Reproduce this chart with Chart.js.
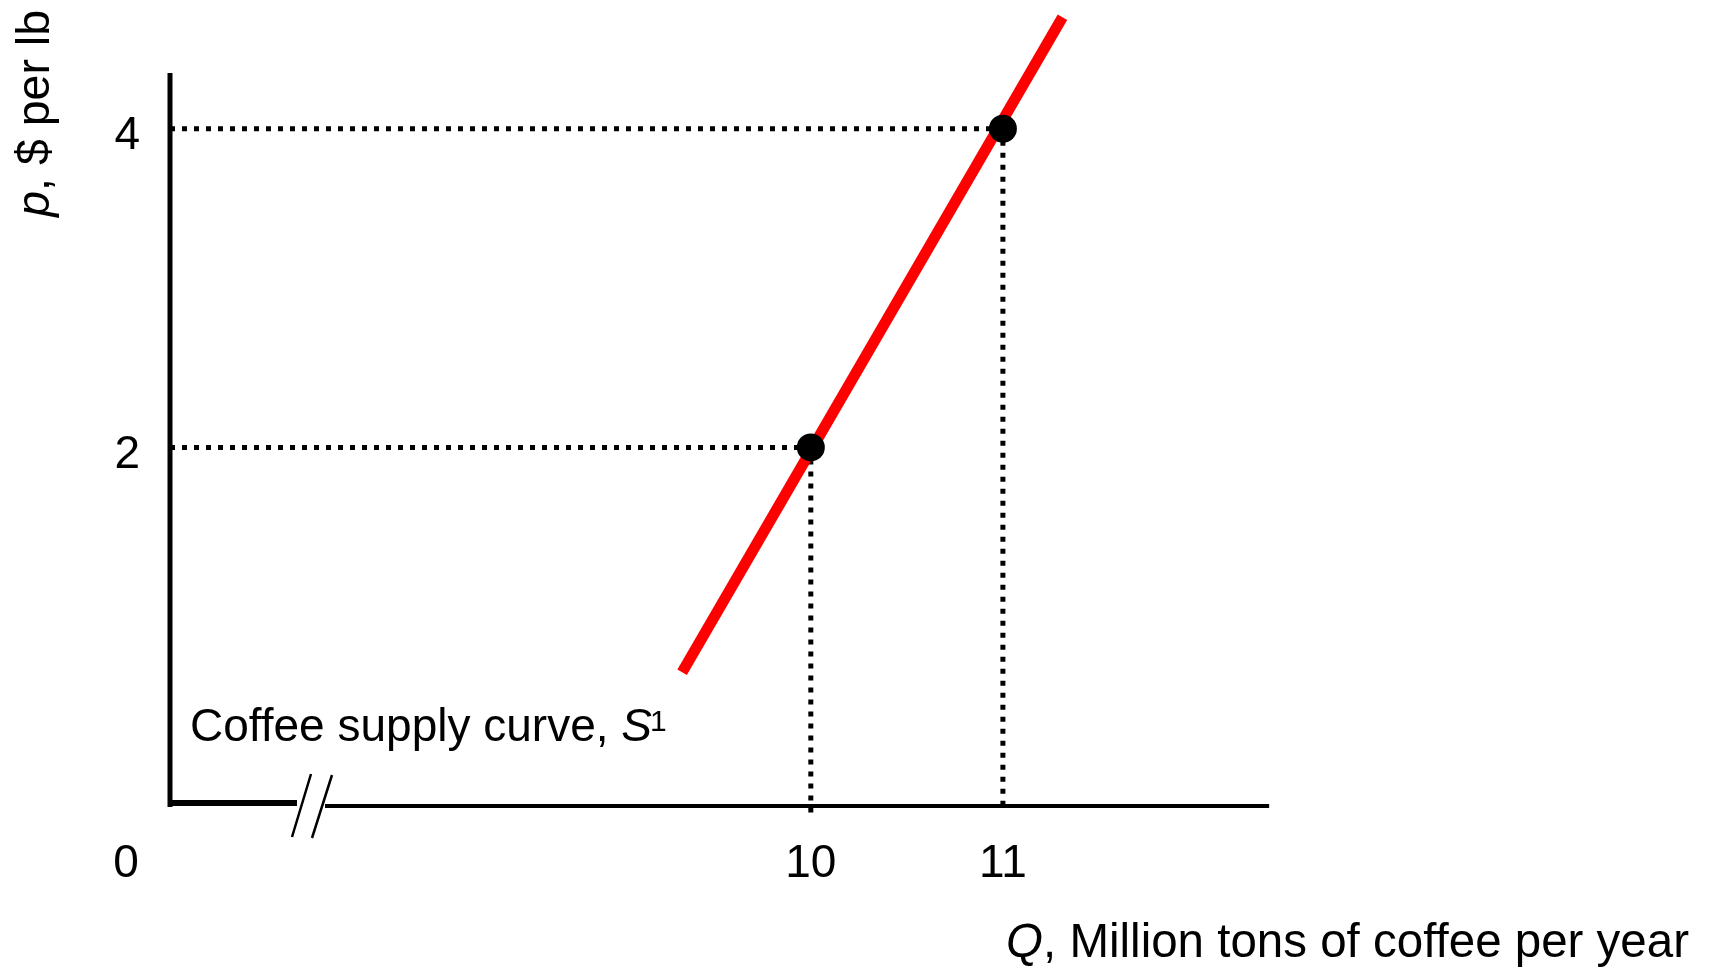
<!DOCTYPE html>
<html lang="en">
  <head>
    <meta charset="UTF-8" />
    <script src="https://cdn.jsdelivr.net/npm/chart.js@4.4.1/dist/chart.umd.min.js"></script>
    <title>Coffee supply curve</title>
    <style>
      html, body { margin: 0; padding: 0; background: #fff; }
      #wrap { width: 1712px; height: 970px; }
    </style>
  </head>
  <body>
    <div id="wrap"><canvas id="myChart"></canvas></div>

    <script>
      // values
      const pointQ = [10, 11];
      const pointP = [2, 4];
      const supplyQ = [9.33, 11.31];
      const supplyP = [0.59, 4.70];
      const xTicks = [10, 11];
      const yTicks = [2, 4];

      const xMin = 6.664, xMax = 14.603;
      const yMin = -0.25, yMax = 4.72;
      const yAxisTop = 4.35;
      const xAxisEnd = 12.386;

      const FONT = "'Liberation Sans', Arial, sans-serif";
      Chart.defaults.font.family = FONT;
      Chart.defaults.color = "#000";

      const guideStyle = {
        showLine: true,
        borderColor: "#000",
        borderWidth: 5,
        borderDash: [5, 7],
        borderCapStyle: "butt",
        pointRadius: 0,
        clip: false,
        order: 3
      };

      // dotted guides from each point to the axes
      const guides = [];
      pointQ.forEach((q, i) => {
        guides.push(Object.assign({ data: [{ x: xMin, y: pointP[i] }, { x: q, y: pointP[i] }] }, guideStyle));
        guides.push(Object.assign({ data: [{ x: q, y: pointP[i] }, { x: q, y: i === 0 ? yMin - 0.06 : yMin }] }, guideStyle));
      });

      // keep the plot area exactly where the layout padding puts it
      function noPad(scale) {
        scale.paddingTop = 0;
        scale.paddingBottom = 0;
        scale.paddingLeft = 0;
        scale.paddingRight = 0;
      }

      const decorations = {
        id: "decorations",
        beforeDatasetsDraw(chart) {
          const { ctx, chartArea } = chart;
          const xs = chart.scales.x, ys = chart.scales.y;
          const left = chartArea.left, bottom = chartArea.bottom;
          ctx.save();
          ctx.strokeStyle = "#000";
          ctx.lineCap = "butt";
          // y axis
          ctx.lineWidth = 5;
          ctx.beginPath();
          ctx.moveTo(left, ys.getPixelForValue(yAxisTop));
          ctx.lineTo(left, bottom + 1);
          ctx.stroke();
          // x axis, left thick part before the break
          ctx.lineWidth = 6;
          ctx.beginPath();
          ctx.moveTo(left - 2, bottom - 3);
          ctx.lineTo(297, bottom - 3);
          ctx.stroke();
          // x axis after the break
          ctx.lineWidth = 4;
          ctx.beginPath();
          ctx.moveTo(325, bottom);
          ctx.lineTo(xs.getPixelForValue(xAxisEnd), bottom);
          ctx.stroke();
          // break marks
          ctx.lineWidth = 2.5;
          ctx.beginPath();
          ctx.moveTo(292, bottom + 31);
          ctx.lineTo(311, bottom - 32);
          ctx.moveTo(312, bottom + 32);
          ctx.lineTo(332, bottom - 31);
          ctx.stroke();
          ctx.restore();
        },
        afterDraw(chart) {
          const { ctx } = chart;
          ctx.save();
          ctx.fillStyle = "#000";
          ctx.textBaseline = "alphabetic";

          // origin label
          ctx.font = "46px " + FONT;
          ctx.textAlign = "center";
          ctx.fillText("0", 126, 877);

          // curve label
          ctx.textAlign = "left";
          let x = 190;
          ctx.font = "46px " + FONT;
          const lab = "Coffee supply curve, ";
          ctx.fillText(lab, x, 741);
          x += ctx.measureText(lab).width;
          ctx.font = "italic 46px " + FONT;
          ctx.fillText("S", x, 741);
          x += ctx.measureText("S").width;
          ctx.font = "30px " + FONT;
          ctx.fillText("1", x - 2, 731);

          // x title, right aligned
          ctx.font = "47.5px " + FONT;
          const rest = ", Million tons of coffee per year";
          const wRest = ctx.measureText(rest).width;
          ctx.font = "italic 47.5px " + FONT;
          const wQ = ctx.measureText("Q").width;
          let tx = 1689 - wRest - wQ;
          ctx.fillText("Q", tx, 957);
          ctx.font = "47.5px " + FONT;
          ctx.fillText(rest, tx + wQ, 957);

          // y title, rotated, ending at the top
          ctx.translate(49, 10);
          ctx.rotate(-Math.PI / 2);
          ctx.font = "46.5px " + FONT;
          const yRest = ", $ per lb";
          const wy = ctx.measureText(yRest).width;
          ctx.font = "italic 46.5px " + FONT;
          const wp = ctx.measureText("p").width;
          ctx.fillText("p", -wy - wp, 0);
          ctx.font = "46.5px " + FONT;
          ctx.fillText(yRest, -wy, 0);
          ctx.restore();
        }
      };

      const ctx = document.getElementById("myChart").getContext("2d");
      const chart = new Chart(ctx, {
        type: "scatter",
        data: {
          datasets: [
            ...guides,
            {
              label: "Coffee supply curve, S1",
              data: supplyQ.map((q, i) => ({ x: q, y: supplyP[i] })),
              showLine: true,
              borderColor: "#ff0000",
              borderWidth: 11,
              borderCapStyle: "butt",
              pointRadius: 0,
              clip: false,
              order: 2
            },
            {
              label: "points",
              data: pointQ.map((q, i) => ({ x: q, y: pointP[i] })),
              backgroundColor: "#000",
              borderColor: "#000",
              borderWidth: 0,
              pointRadius: 14,
              pointHoverRadius: 14,
              clip: false,
              order: 1
            }
          ]
        },
        options: {
          responsive: true,
          maintainAspectRatio: false,
          animation: false,
          layout: { padding: { top: 5, right: 17, left: 0, bottom: 0 } },
          plugins: { legend: { display: false }, tooltip: { enabled: false } },
          scales: {
            x: {
              type: "linear",
              min: xMin,
              max: xMax,
              grid: { display: false, drawTicks: false },
              border: { display: false },
              afterFit: (scale) => { scale.height = 164; noPad(scale); },
              afterBuildTicks: (scale) => { scale.ticks = xTicks.map(v => ({ value: v })); },
              ticks: {
                padding: 31,
                font: { size: 46 },
                color: "#000",
                maxRotation: 0,
                callback: (v) => String(v)
              }
            },
            y: {
              type: "linear",
              min: yMin,
              max: yMax,
              grid: { display: false, drawTicks: false },
              border: { display: false },
              afterFit: (scale) => { scale.width = 170; noPad(scale); },
              afterBuildTicks: (scale) => { scale.ticks = yTicks.map(v => ({ value: v })); },
              ticks: {
                padding: 30,
                font: { size: 46 },
                color: "#000",
                labelOffset: 8,
                callback: (v) => String(v)
              }
            }
          }
        },
        plugins: [decorations]
      });
    </script>
  </body>
</html>
